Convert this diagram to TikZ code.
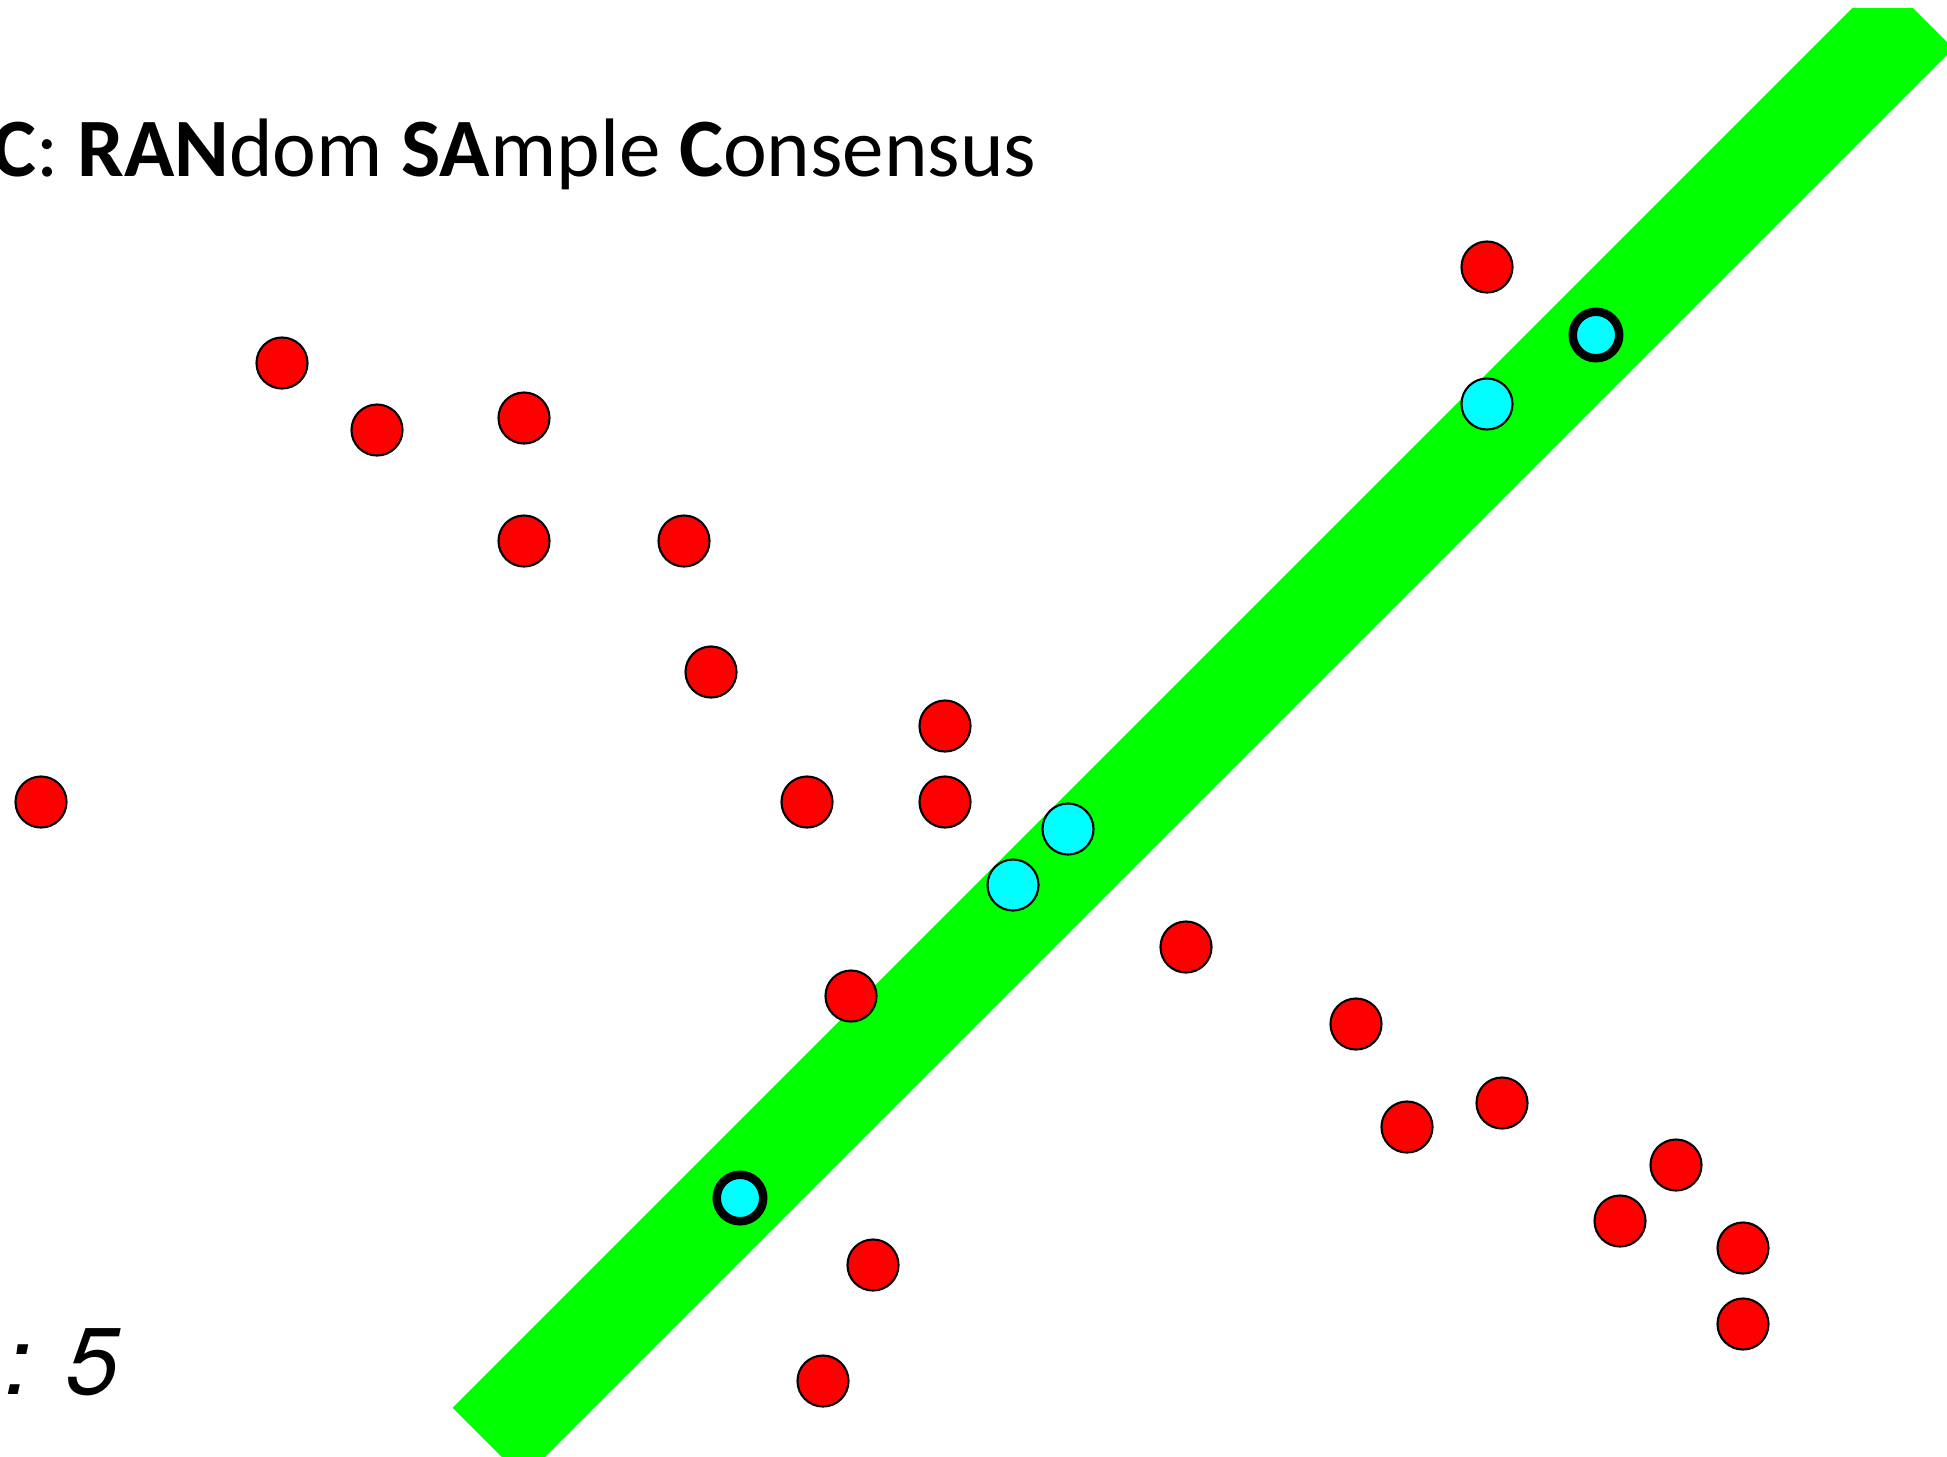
\documentclass[tikz,border=0pt]{standalone}
\usepackage{fontspec}
\setmainfont{Carlito}
\newfontfamily\countfont{TeX Gyre Heros}
\usepackage{tikz}
\usetikzlibrary{positioning}
\definecolor{bandgreen}{RGB}{0,255,0}
\definecolor{ptred}{RGB}{255,0,0}
\definecolor{ptcyan}{RGB}{0,255,255}
\tikzset{
  outlier/.style={circle, draw=black, line width=0.6pt, fill=ptred, inner sep=0pt, minimum size=0.51cm},
  inlier/.style={circle, draw=black, line width=0.6pt, fill=ptcyan, inner sep=0pt, minimum size=0.51cm},
  sample/.style={circle, draw=black, line width=2.4pt, fill=ptcyan, inner sep=0pt, minimum size=0.465cm},
  band/.style={bandgreen, line width=1cm, line cap=butt}
}

\begin{document}
\begin{tikzpicture}[x=0.01cm, y=-0.01cm]
  \useasboundingbox (0,0) rectangle (1947,1456);
  % consensus band
  \coordinate (bandlo) at (488,1443);
  \coordinate (bandhi) at (1918,13);
  \begin{scope}
    \clip (0,8) rectangle (1947,1456);
    \draw[band] (bandlo) -- (bandhi);
  \end{scope}
  % title and count
  \node[anchor=base west, inner sep=0pt, font=\fontsize{23.6pt}{29pt}\selectfont] (title) at (-8,176)
    {\textbf{C}: \textbf{RAN}dom \textbf{SA}mple \textbf{C}onsensus};
  \node[anchor=base west, inner sep=0pt, font=\countfont\itshape\fontsize{27pt}{32pt}\selectfont] (count) at (4,1394) {: 5};
  % outliers
  \foreach \x/\y [count=\i] in {282/363, 377/430, 524/418, 524/541, 684/541, 711/672, 945/726,
      807/802, 945/802, 41/802, 1487/267, 1186/947, 851/996, 1356/1024, 1407/1127, 1502/1103,
      1676/1165, 1620/1221, 1743/1248, 1743/1324, 873/1265, 823/1381}
    \node[outlier] (out\i) at (\x,\y) {};
  % inliers
  \foreach \x/\y [count=\i] in {1487/404, 1068/829, 1013/885}
    \node[inlier] (in\i) at (\x,\y) {};
  % the two sampled points
  \node[sample] (s1) at (1596,335) {};
  \node[sample] (s2) at (740,1198) {};
\end{tikzpicture}
\end{document}
